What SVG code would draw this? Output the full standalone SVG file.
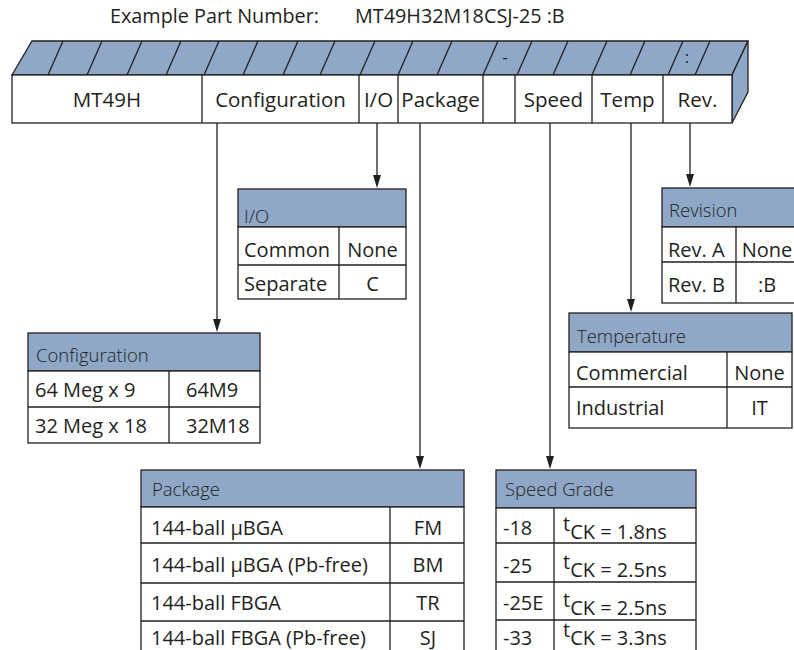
<svg xmlns="http://www.w3.org/2000/svg" width="794" height="650" viewBox="0 0 794 650">
<defs>
<style>
text{font-family:"Open Sans","Noto Sans",sans-serif;fill:#231f20;}
.t{font-size:20px;}
.h{font-size:18.5px;font-weight:300;}
.b{font-size:20.5px;}
.ti{font-size:19.8px;}
.c{text-anchor:middle;}
.ln{stroke:#231f20;stroke-width:1.3;fill:none;}
.hd{fill:#8fa8c8;stroke:#231f20;stroke-width:1.3;}
.cell{fill:#fff;stroke:#231f20;stroke-width:1.3;}
.ah{fill:#231f20;}
</style>
</defs>

<g id="title">
<text class="ti" x="110" y="23">Example Part Number:</text>
<text class="ti" x="355" y="23">MT49H32M18CSJ-25 :B</text>
</g>

<g id="partbar">
<polygon class="hd" points="12,75 32,41 748,41 732,75"/>
<polygon class="hd" points="732,75 748,41 748,92 732,123"/>
<path class="ln" d="M48,75L63,41M87,75L102,41M127,75L142,41M166,75L181,41M204,75L219,41M243,75L258,41M283,75L298,41M320,75L335,41M360,75L375,41M398,75L413,41M437,75L452,41M483,75L498,41M517,75L532,41M553,75L568,41M592,75L607,41M630,75L645,41M668,75L683,41M695,75L710,41"/>
<text x="505" y="63" class="c" style="font-size:17px">-</text>
<text x="687" y="63" class="c" style="font-size:17px">:</text>
<rect class="cell" x="12" y="75" width="720" height="48"/>
<path class="ln" d="M202,75V123M359,75V123M398,75V123M483,75V123M515,75V123M592,75V123M663,75V123"/>
<text class="b c" x="107" y="107">MT49H</text>
<text class="b c" x="280.5" y="107">Configuration</text>
<text class="b c" x="378.5" y="107">I/O</text>
<text class="b c" x="440.5" y="107">Package</text>
<text class="b c" x="553.5" y="107">Speed</text>
<text class="b c" x="627.5" y="107">Temp</text>
<text class="b c" x="697.5" y="107">Rev.</text>
</g>

<g id="connectors">
<line class="ln" x1="217" y1="123" x2="217" y2="320"/>
<polygon class="ah" points="213,319 221,319 217,332"/>
<line class="ln" x1="377" y1="123" x2="377" y2="176"/>
<polygon class="ah" points="373,175 381,175 377,188"/>
<line class="ln" x1="420" y1="123" x2="420" y2="457"/>
<polygon class="ah" points="416,456 424,456 420,469"/>
<line class="ln" x1="550" y1="123" x2="550" y2="457"/>
<polygon class="ah" points="546,456 554,456 550,469"/>
<line class="ln" x1="631" y1="123" x2="631" y2="300"/>
<polygon class="ah" points="627,299 635,299 631,312"/>
<line class="ln" x1="690" y1="123" x2="690" y2="175"/>
<polygon class="ah" points="686,174 694,174 690,187"/>
</g>

<g id="io-table">
<rect class="hd" x="238" y="189" width="168" height="38"/>
<rect class="cell" x="238" y="227" width="168" height="72"/>
<path class="ln" d="M238,265H406M339,227V299"/>
<text class="h" x="244" y="223">I/O</text>
<text class="t" x="244" y="257">Common</text>
<text class="t" x="244" y="291">Separate</text>
<text class="t c" x="372.5" y="257">None</text>
<text class="t c" x="372.5" y="291">C</text>
</g>

<g id="revision-table">
<rect class="hd" x="662" y="188" width="140" height="39"/>
<rect class="cell" x="662" y="227" width="140" height="76"/>
<path class="ln" d="M662,262H802M736,227V303"/>
<text class="h" x="669" y="217">Revision</text>
<text class="t" x="668" y="257">Rev. A</text>
<text class="t" x="668" y="292">Rev. B</text>
<text class="t c" x="767" y="257">None</text>
<text class="t c" x="767" y="292">:B</text>
</g>

<g id="temperature-table">
<rect class="hd" x="569" y="313" width="223" height="39"/>
<rect class="cell" x="569" y="352" width="223" height="76"/>
<path class="ln" d="M569,387H792M727,352V428"/>
<text class="h" x="577" y="343">Temperature</text>
<text class="t" x="576" y="380">Commercial</text>
<text class="t" x="576" y="415">Industrial</text>
<text class="t c" x="759.5" y="380">None</text>
<text class="t c" x="759.5" y="415">IT</text>
</g>

<g id="configuration-table">
<rect class="hd" x="28" y="333" width="232" height="38"/>
<rect class="cell" x="28" y="371" width="232" height="72"/>
<path class="ln" d="M28,407H260M169,371V443"/>
<text class="h" x="36" y="362">Configuration</text>
<text class="t" x="35" y="397">64 Meg x 9</text>
<text class="t" x="35" y="433">32 Meg x 18</text>
<text class="t" x="186" y="397">64M9</text>
<text class="t" x="186" y="433">32M18</text>
</g>

<g id="package-table">
<rect class="hd" x="141" y="470" width="323" height="37"/>
<rect class="cell" x="141" y="507" width="323" height="150"/>
<path class="ln" d="M141,543H464M141,583H464M141,621H464M390,507V657"/>
<text class="h" x="152" y="496">Package</text>
<text class="t" x="151" y="535">144-ball μBGA</text>
<text class="t" x="151" y="572">144-ball μBGA (Pb-free)</text>
<text class="t" x="151" y="610">144-ball FBGA</text>
<text class="t" x="151" y="645">144-ball FBGA (Pb-free)</text>
<text class="t c" x="428" y="535">FM</text>
<text class="t c" x="428" y="572">BM</text>
<text class="t c" x="428" y="610">TR</text>
<text class="t c" x="428" y="645">SJ</text>
</g>

<g id="speed-table">
<rect class="hd" x="496" y="470" width="200" height="38"/>
<rect class="cell" x="496" y="508" width="200" height="150"/>
<path class="ln" d="M496,543H696M496,582H696M496,620H696M554,508V658"/>
<text class="h" x="505" y="496">Speed Grade</text>
<text class="t" x="503" y="535">-18</text>
<text class="t" x="503" y="573">-25</text>
<text class="t" x="503" y="610">-25E</text>
<text class="t" x="503" y="645">-33</text>
<text class="t" x="563" y="531">t<tspan dy="8">CK = 1.8ns</tspan></text>
<text class="t" x="563" y="569">t<tspan dy="8">CK = 2.5ns</tspan></text>
<text class="t" x="563" y="607">t<tspan dy="8">CK = 2.5ns</tspan></text>
<text class="t" x="563" y="637">t<tspan dy="8">CK = 3.3ns</tspan></text>
</g>
</svg>
